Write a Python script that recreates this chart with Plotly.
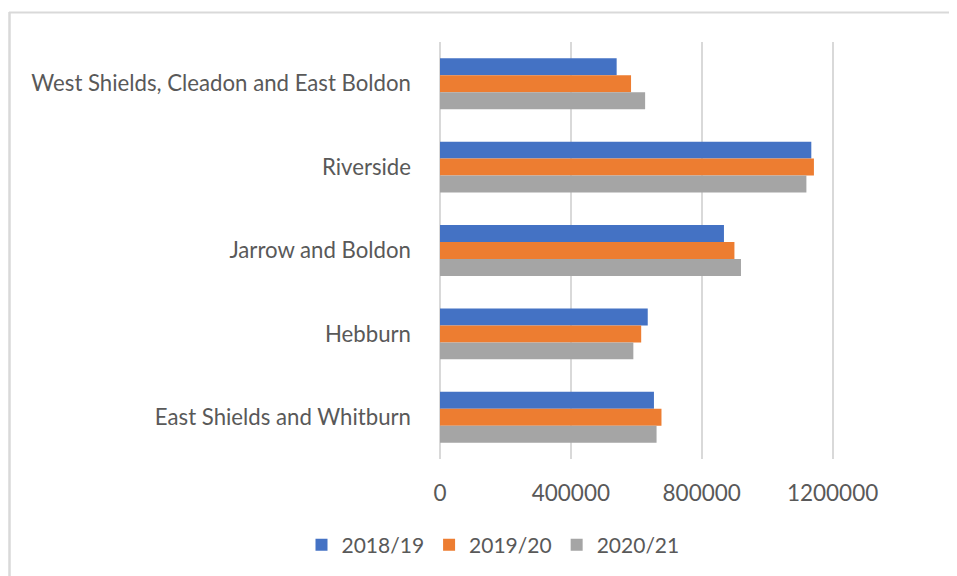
import plotly.graph_objects as go

categories = [
    "West Shields, Cleadon and East Boldon",
    "Riverside",
    "Jarrow and Boldon",
    "Hebburn",
    "East Shields and Whitburn",
]
series_names = ["2018/19", "2019/20", "2020/21"]
values_2018_19 = [540000, 1135000, 868000, 635000, 654000]
values_2019_20 = [584000, 1143000, 900000, 615000, 677000]
values_2020_21 = [627000, 1120000, 920000, 591000, 662000]
colors = ["#4472C4", "#ED7D31", "#A5A5A5"]
x_tick_values = [0, 400000, 800000, 1200000]
x_tick_labels = ["0", "400000", "800000", "1200000"]

# page body has an 8px margin, so all target positions are shifted by -8
OFF = 8
W, H = 957, 576
L, R, T, B = 440 - OFF, 59 + OFF, 42 - OFF, 117 + OFF
FONT = "Lato"
TXT = "#595959"

fig = go.Figure()
for name, vals, col in zip(series_names, [values_2018_19, values_2019_20, values_2020_21], colors):
    fig.add_trace(go.Bar(
        y=categories, x=vals, name=name, orientation="h",
        marker=dict(color=col, line=dict(width=0)),
    ))

pw = W - L - R
ph = H - T - B
def px_x(p):
    return (p - OFF - L) / pw
def px_y(p):
    return 1 - (p - OFF - T) / ph

fig.update_layout(
    width=W, height=H,
    margin=dict(l=L, r=R, t=T, b=B, pad=0),
    barmode="group", bargap=0.39, bargroupgap=0,
    plot_bgcolor="white", paper_bgcolor="white",
    font=dict(family=FONT, size=22, color=TXT),
    xaxis=dict(
        range=[0, 1400000], tickvals=x_tick_values, ticktext=x_tick_labels,
        showgrid=True, gridcolor="#D9D9D9", gridwidth=1.5,
        zeroline=True, zerolinecolor="#D9D9D9", zerolinewidth=1.5,
        showline=False, ticks="", ticklabelstandoff=18,
        tickfont=dict(family=FONT, size=22.5, color=TXT),
    ),
    yaxis=dict(
        autorange="reversed", showgrid=False, zeroline=False, showline=False,
        ticks="", ticklabelstandoff=28,
        tickfont=dict(family=FONT, size=22.2, color=TXT),
    ),
    legend=dict(
        orientation="h", xref="container", yref="container",
        x=(493 - OFF) / W, y=1 - (545 - OFF) / H, xanchor="center", yanchor="middle",
        font=dict(family=FONT, size=21, color=TXT),
        itemwidth=30, traceorder="normal",
    ),
    shapes=[
        dict(type="line", xref="paper", yref="paper",
             x0=px_x(9), x1=px_x(W + 20), y0=px_y(12.5), y1=px_y(12.5),
             line=dict(color="#D9D9D9", width=2)),
        dict(type="line", xref="paper", yref="paper",
             x0=px_x(9.5), x1=px_x(9.5), y0=px_y(12), y1=px_y(H + 20),
             line=dict(color="#D9D9D9", width=2.5)),
    ],
)

fig.write_html("out.html")
